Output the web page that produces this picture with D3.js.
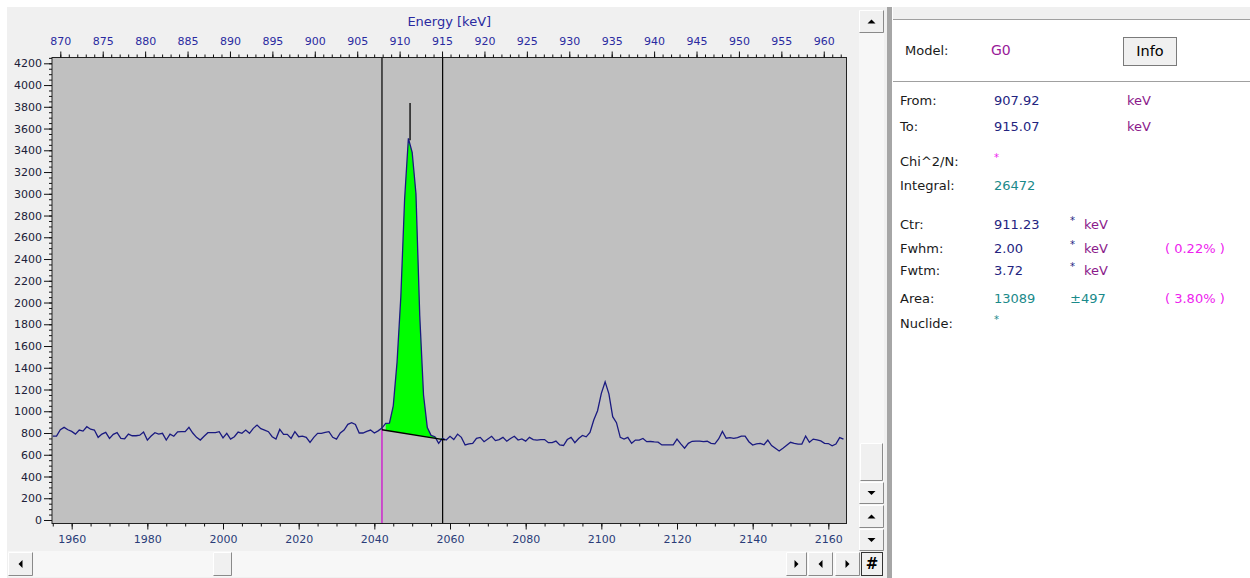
<!DOCTYPE html>
<html>
<head>
<meta charset="utf-8">
<script src="https://cdn.jsdelivr.net/npm/d3@7"></script>
<style>
body { margin: 0; background: #fff; }
text { font-family: "DejaVu Sans", sans-serif; }
</style>
</head>
<body>
<svg id="spectrum" width="1250" height="578"></svg>
<script>
/*********************************************
    * Spectrum data (counts per channel)
*********************************************/
var startChannel = 1955;
var counts = [
    772, 772, 830, 852, 830, 815, 790, 827, 818, 858,
    835, 827, 760, 790, 806, 750, 788, 803, 750, 747,
    790, 775, 775, 780, 809, 735, 772, 803, 790, 797,
    735, 790, 770, 810, 812, 812, 852, 800, 760, 735,
    770, 803, 803, 803, 812, 755, 797, 744, 766, 809,
    797, 827, 797, 843, 873, 840, 827, 812, 766, 744,
    833, 788, 788, 751, 812, 766, 772, 760, 714, 760,
    797, 797, 805, 812, 760, 744, 800, 827, 880, 895,
    879, 800, 800, 815, 827, 800, 820, 845, 888, 890,
    1050, 1450, 2050, 2950, 3510, 3380, 3000, 1880, 1150, 850,
    778, 766, 705, 751, 735, 770, 740, 790, 760, 690,
    700, 705, 751, 760, 720, 745, 770, 730, 740, 760,
    725, 750, 770, 735, 745, 725, 760, 740, 735, 740,
    740, 711, 711, 726, 690, 685, 740, 760, 711, 750,
    778, 765, 805, 920, 1005, 1165, 1271, 1160, 950, 895,
    760, 745, 760, 705, 735, 735, 750, 720, 722, 718,
    716, 690, 690, 690, 692, 744, 700, 660, 705, 724,
    726, 726, 721, 724, 705, 700, 745, 815, 752, 758,
    751, 757, 772, 772, 720, 689, 700, 705, 692, 735,
    685, 660, 634, 660, 688, 715, 705, 698, 698, 772,
    715, 744, 736, 728, 705, 703, 682, 698, 758, 744
];
var channelView = [1954.8, 2164.8];
var channelTicks = d3.range(1960, 2161, 20);
var channelMinor = d3.range(1955, 2165, 5);
var energyTicks = d3.range(870, 961, 5);
var energyMinor = d3.range(870, 963, 1);
var countTicks = d3.range(0, 4201, 200);
var countMinor = d3.range(0, 4251, 50);

// energy calibration keV = offset + gain * channel
var calOffset = -2.82, calGain = 0.446;

// fitted region
var roiFrom = 907.92, roiTo = 915.07;
var roiBackground = [830, 740];
var centroid = 911.23, centroidTop = 3835;

var panelRows = [
    {label: 'From:', value: '907.92', unit: 'keV'},
    {label: 'To:', value: '915.07', unit: 'keV'},
    {label: 'Chi^2/N:', star: 'magenta'},
    {label: 'Integral:', value: '26472', teal: true},
    {label: 'Ctr:', value: '911.23', unit2: 'keV'},
    {label: 'Fwhm:', value: '2.00', unit2: 'keV', pct: '( 0.22% )'},
    {label: 'Fwtm:', value: '3.72', unit2: 'keV'},
    {label: 'Area:', value: '13089', teal: true, err: '\u00b1497', pct: '( 3.80% )'},
    {label: 'Nuclide:', star: 'teal'}
];

var svg = d3.select("#spectrum");
var plot = {left: 52, right: 846.5, top: 57.5, bottom: 523.5};

// window background
svg.append("rect").attr("x", 7).attr("y", 7).attr("width", 882).attr("height", 571).attr("fill", "#f0f0f0");

var xCh = d3.scaleLinear().domain(channelView).range([plot.left, plot.right]);
var xE = d3.scaleLinear()
    .domain(channelView.map(function(c) { return calOffset + calGain * c; }))
    .range([plot.left, plot.right]);
var y = d3.scaleLinear().domain([0, 4200]).range([520, 63.3]);
function chOf(e) { return (e - calOffset) / calGain; }

svg.append("rect")
    .attr("x", plot.left).attr("y", plot.top)
    .attr("width", plot.right - plot.left).attr("height", plot.bottom - plot.top)
    .attr("fill", "#c0c0c0");

svg.append("clipPath").attr("id", "clip").append("rect")
    .attr("x", plot.left).attr("y", plot.top)
    .attr("width", plot.right - plot.left).attr("height", plot.bottom - plot.top);

var data = counts.map(function(v, i) { return {ch: startChannel + i, v: v}; });

//ROI fill
var chA = chOf(roiFrom), chB = chOf(roiTo);
var bg = d3.scaleLinear().domain([chA, chB]).range(roiBackground);
var roiData = data.filter(function(d) { return d.ch >= chA && d.ch <= chB + 0.1; });
var area = d3.area()
    .x(function(d) { return xCh(d.ch); })
    .y0(function(d) { return y(bg(d.ch)); })
    .y1(function(d) { return y(Math.max(d.v, bg(d.ch))); });

var g = svg.append("g").attr("clip-path", "url(#clip)");
g.append("path").datum(roiData).attr("d", area).attr("fill", "#00ff00");

// markers
g.append("line")
    .attr("x1", xE(roiFrom)).attr("x2", xE(roiFrom))
    .attr("y1", plot.top).attr("y2", y(roiBackground[0]))
    .attr("stroke", "#000").attr("stroke-width", 1.2);
g.append("line")
    .attr("x1", xE(roiFrom)).attr("x2", xE(roiFrom))
    .attr("y1", y(roiBackground[0])).attr("y2", plot.bottom)
    .attr("stroke", "#d000d0").attr("stroke-width", 1.2);
g.append("line")
    .attr("x1", xE(roiTo)).attr("x2", xE(roiTo))
    .attr("y1", plot.top).attr("y2", plot.bottom)
    .attr("stroke", "#000").attr("stroke-width", 1.2);

var line = d3.line()
    .x(function(d) { return xCh(d.ch); })
    .y(function(d) { return y(d.v); });
g.append("path").datum(data).attr("d", line)
    .attr("fill", "none").attr("stroke", "#1a1a80").attr("stroke-width", 1.3);

// background line + centroid
g.append("line")
    .attr("x1", xCh(chA)).attr("x2", xCh(chB + 0.6))
    .attr("y1", y(bg(chA))).attr("y2", y(bg(chB + 0.6)))
    .attr("stroke", "#000").attr("stroke-width", 1.3);
var peakMax = d3.max(roiData, function(d) { return d.v; });
g.append("line")
    .attr("x1", xE(centroid)).attr("x2", xE(centroid))
    .attr("y1", y(centroidTop)).attr("y2", y(peakMax) + 2)
    .attr("stroke", "#000").attr("stroke-width", 1.3);

svg.append("rect")
    .attr("x", plot.left).attr("y", plot.top)
    .attr("width", plot.right - plot.left).attr("height", plot.bottom - plot.top)
    .attr("fill", "none").attr("stroke", "#222");

//axes
function styleAxis(sel, col) {
    sel.select(".domain").remove();
    sel.selectAll("line").attr("stroke", "#111");
    sel.selectAll("text").attr("fill", col).style("font-size", "11px")
        .style("font-family", "DejaVu Sans, sans-serif");
}
svg.append("g").attr("transform", "translate(0," + plot.top + ")")
    .call(d3.axisTop(xE).tickValues(energyMinor).tickSize(3).tickFormat(""))
    .call(styleAxis, "#000");
svg.append("g").attr("transform", "translate(0," + plot.top + ")")
    .call(d3.axisTop(xE).tickValues(energyTicks).tickSize(6).tickPadding(7).tickFormat(d3.format("d")))
    .call(styleAxis, "#2a2aa0");

svg.append("g").attr("transform", "translate(0," + plot.bottom + ")")
    .call(d3.axisBottom(xCh).tickValues(channelMinor).tickSize(3).tickFormat(""))
    .call(styleAxis, "#000");
svg.append("g").attr("transform", "translate(0," + plot.bottom + ")")
    .call(d3.axisBottom(xCh).tickValues(channelTicks).tickSize(6).tickPadding(6).tickFormat(d3.format("d")))
    .call(styleAxis, "#2a3c78");

svg.append("g").attr("transform", "translate(" + plot.left + ",0)")
    .call(d3.axisLeft(y).tickValues(countMinor).tickSize(3).tickFormat(""))
    .call(styleAxis, "#000");
svg.append("g").attr("transform", "translate(" + plot.left + ",0)")
    .call(d3.axisLeft(y).tickValues(countTicks).tickSize(8).tickPadding(2).tickFormat(d3.format("d")))
    .call(styleAxis, "#202038");

svg.append("text")
    .attr("x", (plot.left + plot.right) / 2).attr("y", 21).attr("dy", "0.35em")
    .attr("text-anchor", "middle").attr("fill", "#2a2aa0").style("font-size", "13px")
    .text("Energy [keV]");

/*********************************************
    * scroll bars
*********************************************/
function button(x, yy, w, h, glyph) {
    var b = svg.append("g");
    b.append("rect").attr("x", x).attr("y", yy).attr("width", w).attr("height", h).attr("fill", "#f0f0f0");
    b.append("path").attr("d", "M" + (x + 0.5) + "," + (yy + h - 0.5) + "V" + (yy + 0.5) + "H" + (x + w - 0.5))
        .attr("fill", "none").attr("stroke", "#fff");
    b.append("path").attr("d", "M" + (x + 0.5) + "," + (yy + h - 0.5) + "H" + (x + w - 0.5) + "V" + (yy + 0.5))
        .attr("fill", "none").attr("stroke", "#8a8a8a");
    var cx = x + w / 2, cy = yy + h / 2;
    var p = null;
    if (glyph === "up") p = [[cx - 4, cy + 2], [cx + 4, cy + 2], [cx, cy - 2]];
    if (glyph === "down") p = [[cx - 4, cy - 2], [cx + 4, cy - 2], [cx, cy + 2]];
    if (glyph === "left") p = [[cx + 2, cy - 4], [cx + 2, cy + 4], [cx - 2, cy]];
    if (glyph === "right") p = [[cx - 2, cy - 4], [cx - 2, cy + 4], [cx + 2, cy]];
    if (p) b.append("path").attr("d", "M" + p.join("L") + "Z").attr("fill", "#000");
    if (glyph === "hash") {
        b.append("rect").attr("x", x + 0.5).attr("y", yy + 0.5).attr("width", w - 1).attr("height", h - 1)
            .attr("fill", "none").attr("stroke", "#333");
        b.append("text").attr("x", cx).attr("y", cy).attr("dy", "0.36em").attr("text-anchor", "middle")
            .style("font-size", "15px").style("font-weight", "bold").text("#");
    }
}
// horizontal
svg.append("rect").attr("x", 8).attr("y", 551).attr("width", 852).attr("height", 26).attr("fill", "#f7f7f7");
button(8, 552, 25, 24, "left");
button(213, 552, 19, 24, null);
button(786, 552, 21, 24, "right");
button(808, 552, 25, 24, "left");
button(835, 552, 25, 24, "right");
button(861, 552, 22, 24, "hash");
// vertical
svg.append("rect").attr("x", 859).attr("y", 10).attr("width", 25).attr("height", 541).attr("fill", "#f7f7f7");
button(859, 10, 25, 23, "up");
button(860, 443, 23, 38, null);
button(859, 482, 25, 22, "down");
button(859, 505, 25, 23, "up");
button(859, 529, 25, 22, "down");

/*********************************************
    * fit result panel
*********************************************/
svg.append("rect").attr("x", 887).attr("y", 7).attr("width", 5).attr("height", 571).attr("fill", "#a6a6a6");
svg.append("rect").attr("x", 893).attr("y", 7).attr("width", 357).attr("height", 12).attr("fill", "#f0f0f0");
svg.append("line").attr("x1", 893).attr("x2", 1250).attr("y1", 19.5).attr("y2", 19.5).attr("stroke", "#a0a0a0");
svg.append("line").attr("x1", 893).attr("x2", 1250).attr("y1", 81.5).attr("y2", 81.5).attr("stroke", "#a0a0a0");

var labelCol = "#1a1a1a", valCol = "#24247f", unitCol = "#8b1a8b", tealCol = "#1a8a8a", pinkCol = "#ee22ee";
var panel = svg.append("g").style("font-size", "13px");
function txt(x, yy, s, col, size) {
    var t = panel.append("text").attr("x", x).attr("y", yy).attr("dy", "0.35em").attr("fill", col).text(s);
    if (size) t.style("font-size", size);
    return t;
}
txt(905, 50, "Model:", labelCol);
txt(991, 50, "G0", "#991a99", "14px");
button(1123, 37, 54, 29, null);
svg.append("rect").attr("x", 1123.5).attr("y", 37.5).attr("width", 53).attr("height", 28).attr("fill", "none").attr("stroke", "#7a7a7a");
svg.append("text").attr("x", 1150).attr("y", 51).attr("dy", "0.35em").attr("text-anchor", "middle")
    .style("font-size", "14.5px").attr("fill", "#000").text("Info");

var rowY = [100, 126, 161, 185, 224, 248, 270, 298, 323];
panelRows.forEach(function(r, i) {
    var yy = rowY[i];
    txt(900, yy, r.label, labelCol);
    if (r.value) txt(994, yy, r.value, r.teal ? tealCol : valCol);
    if (r.unit) txt(1127, yy, r.unit, unitCol);
    if (r.unit2) {
        txt(1070, yy - 4, "*", valCol, "10px");
        txt(1084, yy, r.unit2, unitCol);
    }
    if (r.err) txt(1070, yy, r.err, tealCol);
    if (r.pct) txt(1165, yy, r.pct, pinkCol);
    if (r.star) txt(994, yy - 4, "*", r.star === "teal" ? tealCol : pinkCol, "10px");
});
</script>
</body>
</html>
